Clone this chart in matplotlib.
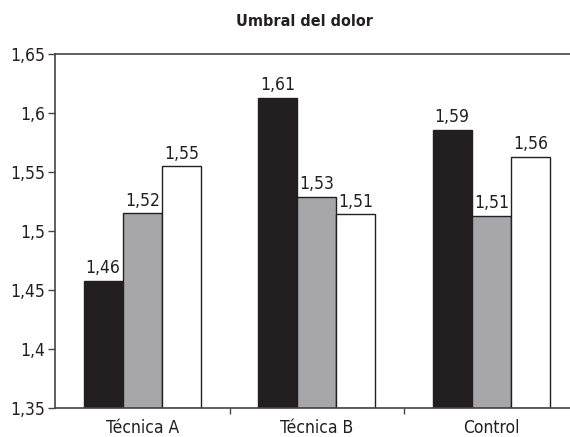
import matplotlib.pyplot as plt
from matplotlib.ticker import FixedLocator, FuncFormatter

plt.rcParams['font.family'] = ['DejaVu Sans']
plt.rcParams['font.stretch'] = 'condensed'

groups = ['Técnica A', 'Técnica B', 'Control']
serie1 = [1.458, 1.613, 1.586]   # negro
serie2 = [1.515, 1.529, 1.513]   # gris
serie3 = [1.555, 1.514, 1.563]   # blanco
etiq1 = ['1,46', '1,61', '1,59']
etiq2 = ['1,52', '1,53', '1,51']
etiq3 = ['1,55', '1,51', '1,56']

fig = plt.figure(figsize=(5.7, 4.37), dpi=100)
# right edge of the frame runs past the picture, as in the original
ax = fig.add_axes([55/570, 1 - 408/437, 523.5/570, 354/437])

w = 0.224
colors = ['#231f20', '#a7a7a9', 'white']
series = [serie1, serie2, serie3]
labels = [etiq1, etiq2, etiq3]
for k, (vals, labs, c) in enumerate(zip(series, labels, colors)):
    xs = [i + (k - 1) * w for i in range(len(groups))]
    bars = ax.bar(xs, [v - 1.35 for v in vals], w, bottom=1.35, color=c,
                  edgecolor='#231f20', linewidth=1.0)
    for b, t in zip(bars, labs):
        ax.text(b.get_x() + b.get_width() / 2, b.get_y() + b.get_height() + 0.003, t,
                ha='center', va='bottom', fontsize=12.5, color='#231f20')

ax.set_xlim(-0.5, 2.5)
ax.set_ylim(1.35, 1.65)
ax.yaxis.set_major_locator(FixedLocator([1.35, 1.4, 1.45, 1.5, 1.55, 1.6, 1.65]))
ax.yaxis.set_major_formatter(FuncFormatter(lambda v, p: ('%g' % round(v, 2)).replace('.', ',')))
ax.tick_params(axis='y', labelsize=12.5, length=5, width=1, colors='#444444',
               labelcolor='#231f20', pad=2)

ax.set_xticks([0.5, 1.5])
ax.set_xticklabels([])
ax.set_xticks(range(len(groups)), minor=True)
ax.set_xticklabels(groups, minor=True, fontsize=12.5, color='#231f20')
ax.tick_params(axis='x', which='major', length=4, width=1, colors='#444444')
ax.tick_params(axis='x', which='minor', length=0, pad=8)

for s in ax.spines.values():
    s.set_color('#444444')
    s.set_linewidth(1.2)

fig.text(305/570, 1 - 22/437, 'Umbral del dolor', ha='center', va='center',
         fontsize=11.5, fontweight='bold', color='#231f20')

fig.savefig('out.png', dpi=100)
